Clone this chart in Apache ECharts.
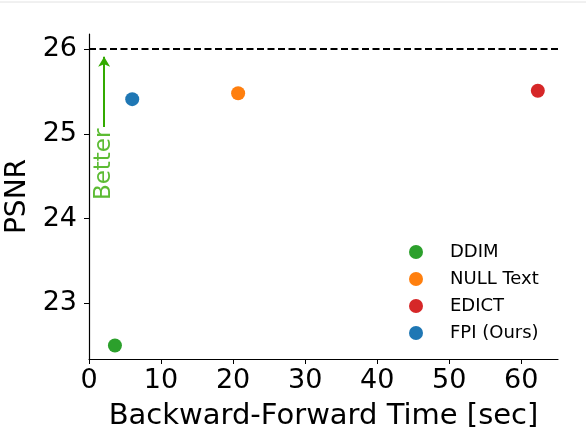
<!DOCTYPE html>
<html>
<head>
<meta charset="utf-8">
<script src="https://cdn.jsdelivr.net/npm/echarts@6/dist/echarts.min.js"></script>
<style>
  html, body { margin: 0; padding: 0; background: #fff; }
  #main { width: 586px; height: 427px; }
</style>
</head>
<body>
<div id="main"></div>
<script>
var methods = ['DDIM', 'NULL Text', 'EDICT', 'FPI (Ours)'];
var colors = ['#2ca02c', '#ff7f0e', '#d62728', '#1f77b4'];
var times = [3.6, 20.7, 62.3, 6.0];
var psnrs = [22.50, 25.48, 25.51, 25.41];
var xTicks = [0, 10, 20, 30, 40, 50, 60];
var yTicks = [23, 24, 25, 26];
var refLine = 26;
var arrowX = 2.1;
var arrowFrom = 25.08;
var arrowTo = 25.91;
var betterY = 24.64;

var font = 'DejaVu Sans';
var chart = echarts.init(document.getElementById('main'));

var series = methods.map(function (name, i) {
  return {
    name: name,
    type: 'scatter',
    symbolSize: 14,
    itemStyle: { color: colors[i], opacity: 1 },
    data: [[times[i], psnrs[i]]]
  };
});

// dashed reference line + "Better" arrow
series.push({
  name: 'ann',
  type: 'scatter',
  symbolSize: 0,
  data: [[arrowX, betterY]],
  label: {
    show: true,
    formatter: 'Better',
    rotate: 90,
    position: 'inside',
    color: '#33aa00',
    fontFamily: font,
    fontSize: 23
  },
  silent: true,
  markLine: {
    silent: true,
    animation: false,
    label: { show: false },
    data: [
      [
        { coord: [0, refLine], symbol: 'none', lineStyle: { color: '#000', width: 2, type: [7, 3.5] } },
        { coord: [65.1, refLine], symbol: 'none' }
      ],
      [
        { coord: [arrowX, arrowFrom], symbol: 'none', lineStyle: { color: '#33aa00', width: 2, type: 'solid' } },
        { coord: [arrowX, arrowTo], symbol: 'arrow', symbolSize: [9, 10] }
      ]
    ]
  }
});

var option = {
  animation: false,
  grid: { left: 89, right: 28, top: 34, bottom: 68, containLabel: false, outerBoundsMode: 'none' },
  legend: {
    data: methods,
    orient: 'vertical',
    left: 409,
    top: 243,
    padding: 0,
    itemWidth: 14,
    itemHeight: 14,
    itemGap: 9,
    icon: 'circle',
    textStyle: { fontFamily: font, fontSize: 18, color: '#000', lineHeight: 18, padding: [0, 0, 0, 22] }
  },
  xAxis: {
    type: 'value',
    min: 0,
    max: 65.1,
    splitLine: { show: false },
    axisLine: { lineStyle: { color: '#000', width: 1.2 } },
    axisTick: { customValues: xTicks, length: 5, lineStyle: { color: '#000' } },
    axisLabel: { customValues: xTicks, margin: 8, fontFamily: font, fontSize: 27, color: '#000' },
    name: 'Backward-Forward Time [sec]',
    nameLocation: 'middle',
    nameGap: 43,
    nameTextStyle: { fontFamily: font, fontSize: 29, color: '#000' }
  },
  yAxis: {
    type: 'value',
    min: 22.34,
    max: 26.18,
    splitLine: { show: false },
    axisLine: { show: true, lineStyle: { color: '#000', width: 1.2 } },
    axisTick: { show: true, customValues: yTicks, length: 5, lineStyle: { color: '#000' } },
    axisLabel: { customValues: yTicks, margin: 12, fontFamily: font, fontSize: 27, color: '#000' },
    name: 'PSNR',
    nameLocation: 'middle',
    nameGap: 48,
    nameTextStyle: { fontFamily: font, fontSize: 28, color: '#000' }
  },
  graphic: [{
    type: 'line',
    shape: { x1: 0, y1: 2, x2: 586, y2: 2 },
    style: { stroke: '#e2e2e2', lineWidth: 1 }
  }],
  series: series
};
chart.setOption(option);
</script>
</body>
</html>
